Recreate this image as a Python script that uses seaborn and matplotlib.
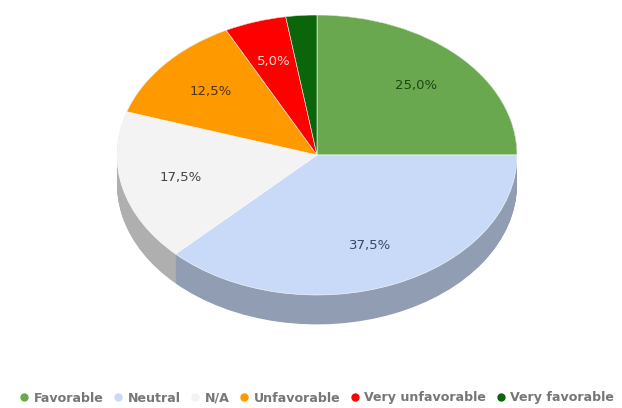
import numpy as np
import matplotlib
matplotlib.use("Agg")
import matplotlib.pyplot as plt
import seaborn as sns
from matplotlib.lines import Line2D

# Survey responses (share of answers, %)
categories = ["Favorable", "Neutral", "N/A", "Unfavorable", "Very unfavorable", "Very favorable"]
shares = [25.0, 37.5, 17.5, 12.5, 5.0, 2.5]

# Order of slices going clockwise from 12 o'clock
pie_order = ["Favorable", "Neutral", "N/A", "Unfavorable", "Very unfavorable", "Very favorable"]

top_colors = {
    "Favorable": "#6aa84f",
    "Neutral": "#c9daf8",
    "N/A": "#f3f3f3",
    "Unfavorable": "#ff9900",
    "Very unfavorable": "#ff0000",
    "Very favorable": "#0b650b",
}
label_colors = {
    "Favorable": "#1f4712",
    "Neutral": "#3a4763",
    "N/A": "#444444",
    "Unfavorable": "#4f3300",
    "Very unfavorable": "#ffd6d6",
    "Very favorable": "#ffffff",
}

sns.set_theme(style="white")
plt.rcParams["font.family"] = ["DejaVu Sans"]

W, H = 622, 408
fig = plt.figure(figsize=(W / 100, H / 100), dpi=100)

# Pie centre and radii in pixels; data units: 200 px horizontally, 140 px vertically
cx, cy, rx, ry = 317, 155, 200, 140
xlim = (-1.1, 1.1)
ylim = (-1.4, 1.1)
ax_w = (xlim[1] - xlim[0]) * rx
ax_h = (ylim[1] - ylim[0]) * ry
left_px = cx + xlim[0] * rx
top_px = cy - ylim[1] * ry
ax = fig.add_axes([left_px / W, 1 - (top_px + ax_h) / H, ax_w / W, ax_h / H])

values = [shares[categories.index(c)] for c in pie_order]
tops = [top_colors[c] for c in pie_order]
sides = [tuple(np.array(matplotlib.colors.to_rgb(c)) * 0.72) for c in tops]

# Rim of the tilted disc: stacked copies of the pie shifted downwards
depth = 0.21
for k in np.linspace(depth, 0.0, 40):
    ax.pie(values, colors=sides, startangle=90, counterclock=False,
           center=(0, -k), wedgeprops=dict(linewidth=0, antialiased=True))

def pct_label(p):
    return f"{p:.1f}%".replace(".", ",") if p >= 3 else ""

wedges, texts, autotexts = ax.pie(
    values, colors=tops, startangle=90, counterclock=False,
    autopct=pct_label, pctdistance=0.7,
    wedgeprops=dict(linewidth=0.4, edgecolor="white"),
    textprops=dict(fontsize=9.5),
)
for t, c in zip(autotexts, pie_order):
    t.set_color(label_colors[c])

ax.set_aspect("auto")
ax.set_xlim(*xlim)
ax.set_ylim(*ylim)
ax.axis("off")

# Legend along the bottom edge
handles = [Line2D([0], [0], marker="o", linestyle="", markersize=5,
                  markerfacecolor=top_colors[c], markeredgecolor=top_colors[c])
           for c in categories]
leg = fig.legend(handles, categories, loc="center", bbox_to_anchor=(0.509, 1 - 398 / H),
                 ncol=len(categories), frameon=False, handletextpad=0.35,
                 columnspacing=0.75, handlelength=0.8, borderpad=0, borderaxespad=0,
                 prop=dict(family="DejaVu Sans", weight="bold", size=9.1))
for t in leg.get_texts():
    t.set_color("#777777")

fig.savefig("out.png", dpi=100, facecolor="white")
